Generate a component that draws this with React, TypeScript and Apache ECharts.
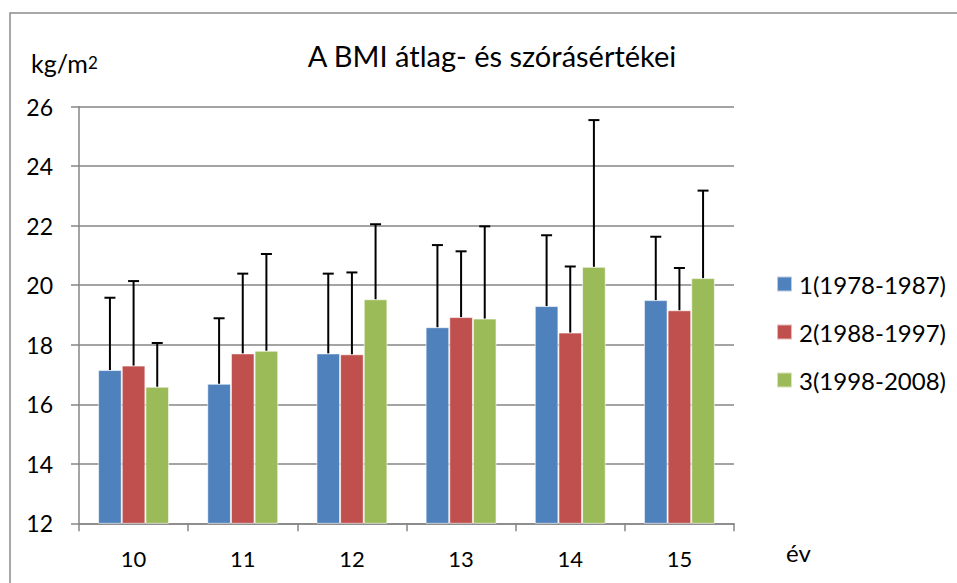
import React, { useEffect, useRef } from "react";
import * as echarts from "echarts";

const categories = ["10", "11", "12", "13", "14", "15"];
const seriesNames = ["1(1978-1987)", "2(1988-1997)", "3(1998-2008)"];
const means1 = [17.15, 16.69, 17.71, 18.59, 19.3, 19.5];
const means2 = [17.3, 17.71, 17.68, 18.93, 18.41, 19.16];
const means3 = [16.59, 17.8, 19.53, 18.88, 20.62, 20.24];
const sd1 = [2.43, 2.2, 2.68, 2.76, 2.38, 2.13];
const sd2 = [2.84, 2.68, 2.75, 2.21, 2.22, 1.42];
const sd3 = [1.47, 3.25, 2.52, 3.1, 4.93, 2.94];
const colors = ["#4F81BD", "#C0504D", "#9BBB59"];
const titleText = "A BMI átlag- és szórásértékei";
const yUnitBase = "kg/m";
const yUnitSup = "2";
const xUnit = "év";

const FONT = "Lato, 'Noto Sans', sans-serif";
const CAT_GAP = 0.35;

export default function App() {
  const ref = useRef<HTMLDivElement>(null);
  useEffect(() => {
    if (!ref.current) return;
    const chart = echarts.init(ref.current, null, { renderer: "svg" });
    const means = [means1, means2, means3];
    const sds = [sd1, sd2, sd3];
    const barSeries = means.map((m, k) => ({
      name: seriesNames[k],
      type: "bar",
      data: m,
      barGap: "0%",
      barCategoryGap: CAT_GAP * 100 + "%",
      itemStyle: { color: colors[k], borderColor: "rgba(255,255,255,0.6)", borderWidth: 1 },
      z: 2,
    }));
    const errSeries = means.map((m, k) => ({
      name: "err" + k,
      type: "custom",
      z: 5,
      data: m.map((v, i) => [i, v, v + sds[k][i]]),
      renderItem: (params: any, api: any) => {
        const i = api.value(0);
        const lo = api.coord([i, api.value(1)]);
        const hi = api.coord([i, api.value(2)]);
        const band = api.size([1, 0])[0];
        const bw = (band * (1 - CAT_GAP)) / 3;
        const x = lo[0] + (k - 1) * bw;
        const cap = 5.5;
        const style = { stroke: "#000", lineWidth: 2, fill: "none" };
        return {
          type: "group",
          children: [
            { type: "line", shape: { x1: x, y1: lo[1], x2: x, y2: hi[1] }, style },
            { type: "line", shape: { x1: x - cap, y1: hi[1], x2: x + cap, y2: hi[1] }, style },
          ],
        };
      },
    }));
    chart.setOption({
      animation: false,
      textStyle: { fontFamily: FONT },
      grid: { left: 79, right: 223, top: 106.7, bottom: 59.7, containLabel: false },
      legend: {
        data: seriesNames,
        orient: "vertical",
        left: 776,
        top: 272,
        padding: 0,
        itemWidth: 15,
        itemHeight: 15,
        itemGap: 24,
        icon: "rect",
        textStyle: { fontSize: 24, color: "#000", fontFamily: FONT, lineHeight: 24, padding: [0, 0, 0, 2] },
      },
      xAxis: {
        type: "category",
        data: categories,
        axisLine: { lineStyle: { color: "#868686", width: 1.5 } },
        axisTick: { show: true, length: 8, alignWithLabel: false, lineStyle: { color: "#868686", width: 1.5 } },
        axisLabel: { color: "#000", fontSize: 22, margin: 24, fontFamily: FONT },
        splitLine: { show: false },
      },
      yAxis: {
        type: "value",
        min: 12,
        max: 26,
        interval: 2,
        axisLine: { show: true, lineStyle: { color: "#868686", width: 1.5 } },
        axisTick: { show: true, length: 8, lineStyle: { color: "#868686", width: 1.5 } },
        axisLabel: { color: "#000", fontSize: 23, margin: 26, fontFamily: FONT },
        splitLine: { show: true, lineStyle: { color: "#868686", width: 1.5 } },
      },
      graphic: [
        {
          type: "rect",
          shape: { x: 10, y: 13, width: 1000, height: 700 },
          style: { fill: "none", stroke: "#8c8c8c", lineWidth: 1.5 },
          silent: true,
          z: -1,
        },
        {
          type: "text",
          x: 492,
          y: 55,
          style: { text: titleText, fontSize: 29, fill: "#000", fontFamily: FONT, align: "center", verticalAlign: "middle" },
        },
        {
          type: "text",
          x: 31,
          y: 63,
          style: { text: yUnitBase, fontSize: 25, fill: "#000", fontFamily: FONT, align: "left", verticalAlign: "middle" },
        },
        {
          type: "text",
          x: 88,
          y: 62,
          style: { text: yUnitSup, fontSize: 17, fill: "#000", fontFamily: FONT, align: "left", verticalAlign: "middle" },
        },
        {
          type: "text",
          x: 786,
          y: 552,
          style: { text: xUnit, fontSize: 24, fill: "#000", fontFamily: FONT, align: "left", verticalAlign: "middle" },
        },
      ],
      series: [...barSeries, ...errSeries],
    });
    return () => chart.dispose();
  }, []);
  return <div ref={ref} style={{ width: 957, height: 583, position: "absolute", left: 0, top: 0 }} />;
}
